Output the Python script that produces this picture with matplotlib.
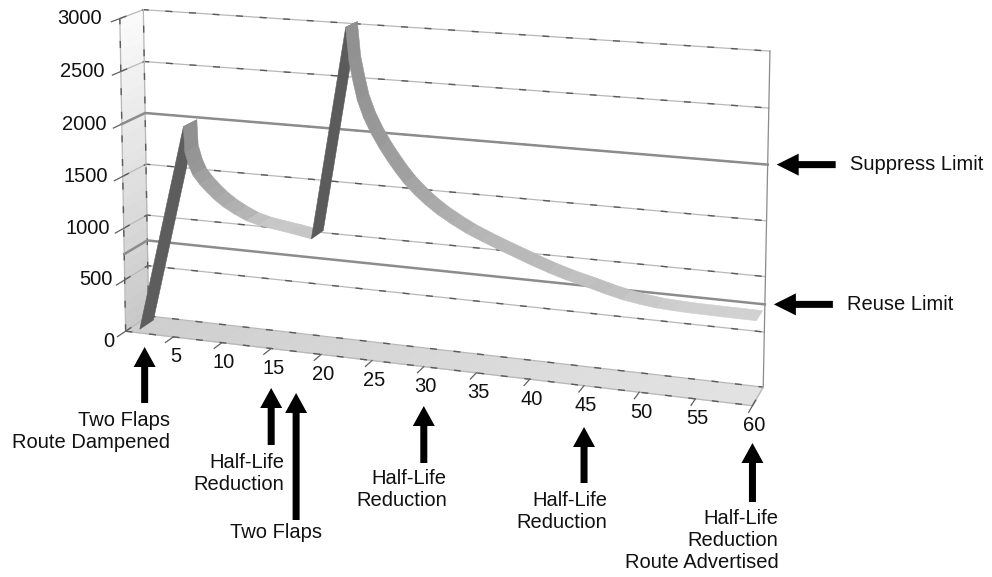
import numpy as np
import matplotlib
matplotlib.use("Agg")
import matplotlib.pyplot as plt
from matplotlib.patches import FancyArrow
from matplotlib.transforms import Affine2D
from mpl_toolkits.mplot3d.art3d import Poly3DCollection

plt.rcParams["font.family"] = ["Liberation Sans", "DejaVu Sans"]

# Route flap penalty over time (minutes)
minutes = [1.0, 5.9, 6.0, 6.4, 6.8, 7.5, 8.2, 9.0, 9.9, 11.0, 12.2, 13.5, 15.0,
           16.5, 18.7,
           22.2, 22.5, 22.9, 23.3, 23.9, 24.6, 25.4, 26.2, 27.0, 27.8, 28.8, 29.8,
           31.0, 32.3, 33.7, 35.2, 36.7, 38.3, 39.8, 41.4, 43.0, 45.1, 46.6, 48.2,
           49.7, 51.2, 52.7, 54.1, 55.6, 57.2, 58.6, 60.0]
penalty = [0, 2000, 1760, 1630, 1545, 1462, 1397, 1330, 1270, 1212, 1160, 1128, 1106,
           1085, 1050,
           3040, 2730, 2540, 2375, 2220, 2085, 1955, 1843, 1740, 1648, 1555, 1473,
           1390, 1316, 1245, 1183, 1125, 1067, 1012, 958, 911, 860, 820, 783,
           760, 742, 734, 729, 727, 725, 724, 723]

suppress_limit = 2000
reuse_limit = 750
value_ticks = [0, 500, 1000, 1500, 2000, 2500, 3000]
minute_ticks = [5, 10, 15, 20, 25, 30, 35, 40, 45, 50, 55, 60]

event_minutes = [2, 15, 17.5, 30, 45, 60]
event_labels = ["Two Flaps\nRoute Dampened", "Half-Life\nReduction", "Two Flaps",
                "Half-Life\nReduction", "Half-Life\nReduction",
                "Half-Life\nReduction\nRoute Advertised"]
limit_labels = ["Suppress Limit", "Reuse Limit"]

# ---- figure and camera ----------------------------------------------------
W, H = 992, 577
FS = 14.5
INK = "#111111"
T_MAX, P_MAX = 60, 3000
DEPTH_RATIO = 0.0808     # floor depth relative to the time axis
HEIGHT_RATIO = 0.5021    # 0..3000 height relative to the time axis
EYE_LEVEL = 4246.7       # the camera looks level from above the top of the chart
half = max(EYE_LEVEL, P_MAX - EYE_LEVEL) + 1.0

fig = plt.figure(figsize=(W / 100, H / 100), dpi=100)
side, left_px, bottom_px = 1139.1, -152.3, 96.2
ax = fig.add_axes([left_px / W, bottom_px / H, side / W, side / H], projection="3d")
ax.set_proj_type("persp", focal_length=0.3624)
ax.view_init(elev=7.476, azim=-70.735)
ax.set_box_aspect((1.0, DEPTH_RATIO, HEIGHT_RATIO * 2 * half / P_MAX))
ax.set_axis_off()
ax.computed_zorder = False
ax.patch.set_visible(False)


def panel(verts, color, z):
    pc = Poly3DCollection([verts], facecolors=[color], edgecolors=[color],
                          linewidths=0.3, zorder=z)
    ax.add_collection3d(pc)


def ruled(xs, ys, zs, z=2):
    ax.plot(xs, ys, zs, color="#b8b8b8", lw=0.9, zorder=z)
    ax.plot(xs, ys, zs, color="#5a5a5a", lw=1.0, dashes=(5, 12), zorder=z)


# back wall, shaded side wall and floor
panel([(0, 1, 0), (T_MAX, 1, 0), (T_MAX, 1, P_MAX), (0, 1, P_MAX)], "white", 0)
bands = np.linspace(0, P_MAX, 31)
for lo, hi in zip(bands[:-1], bands[1:]):
    g = 0.78 + 0.2 * hi / P_MAX
    panel([(0, 0, lo), (0, 1, lo), (0, 1, hi), (0, 0, hi)], (g, g, g), 0)
strips = np.linspace(0, T_MAX, 31)
for a, b in zip(strips[:-1], strips[1:]):
    g = 0.81 + 0.08 * a / T_MAX
    panel([(a, 0, 0), (b, 0, 0), (b, 1, 0), (a, 1, 0)], (g, g, g), 1)

# gridlines and frame edges
for v in value_ticks[1:]:
    ruled([0, 0, T_MAX], [0, 1, 1], [v, v, v])
ruled([0, 0], [0, 0], [0, P_MAX])
ruled([0, 0], [1, 1], [0, P_MAX])
ax.plot([T_MAX, T_MAX], [1, 1], [0, P_MAX], color="#8a8a8a", lw=0.9, zorder=2)
ruled([0, T_MAX], [0, 0], [0, 0])
ruled([0, T_MAX], [1, 1], [0, 0])
ruled([T_MAX, T_MAX], [0, 1], [0, 0])
ruled([0, 0], [0, 1], [0, 0])
for v in value_ticks:
    ax.plot([0, 0], [0, -0.35], [v, v], color="#606060", lw=0.9, zorder=2)
for m in minute_ticks:
    ax.plot([m, m], [0, -0.35], [0, 0], color="#606060", lw=0.9, zorder=2)

# suppress and reuse limits
for v in (suppress_limit, reuse_limit):
    ax.plot([0, 0, T_MAX], [0, 1, 1], [v, v, v], color="#8c8c8c", lw=1.8, zorder=3)

# penalty ribbon, shaded by slope
t = np.asarray(minutes, float)
p = np.asarray(penalty, float)
y0, y1 = 0.2, 0.8
quads = [[(t[i], y0, p[i]), (t[i + 1], y0, p[i + 1]),
          (t[i + 1], y1, p[i + 1]), (t[i], y1, p[i])] for i in range(len(t) - 1)]
ang = np.degrees(np.arctan2(np.diff(p) / P_MAX * HEIGHT_RATIO, np.diff(t) / T_MAX))
lev = np.interp(ang, [-90, -60, -30, 0, 30, 90], [0.56, 0.60, 0.68, 0.82, 0.45, 0.34])
cols = [(g, g, g) for g in lev]
ax.add_collection3d(Poly3DCollection(quads, facecolors=cols, edgecolors=cols,
                                     linewidths=0.4, zorder=5))

ax.set_xlim(0, T_MAX)
ax.set_ylim(0, 1)
ax.set_zlim(EYE_LEVEL - half, EYE_LEVEL + half)

fig.canvas.draw()


def screen(x, y, z):
    r = ax.M @ np.array([x, y, z, 1.0])
    dx, dy = ax.transData.transform((r[0] / r[3], r[1] / r[3]))
    return dx, H - dy


# labels and annotations, placed in pixels from the top-left corner
px = Affine2D().scale(0.01, -0.01).translate(0, H / 100) + fig.dpi_scale_trans

for v in value_ticks:
    x, y = screen(0, 0, v)
    fig.text(x - 11 - 0.0023 * v, y + (10 if v == 0 else 0), f"{v}", ha="right",
             va="center", fontsize=FS, color=INK, transform=px)
for m in minute_ticks:
    x, y = screen(m, 0, 0)
    fig.text(x + 2, y + 20, f"{m}", ha="center", va="center", fontsize=FS,
             color=INK, transform=px)

arrow_tip = [347, 388, 393, 406, 427, 443]
arrow_tail = [403, 445, 520, 463, 483, 502]
text_y = [432, 473, 533, 490, 511, 541]
text_dx = [25, 13, -20, 23, 23, 26]
text_ha = ["right", "right", "center", "right", "right", "right"]
for m, lab, tip, tail, ty, tdx, ha in zip(event_minutes, event_labels, arrow_tip,
                                          arrow_tail, text_y, text_dx, text_ha):
    x, _ = screen(m, 0, 0)
    fig.add_artist(FancyArrow(x, tail, 0, tip - tail, width=7, head_width=22,
                              head_length=20, length_includes_head=True,
                              color="black", lw=0, transform=px))
    fig.text(x + tdx, ty, lab, ha=ha, va="center", multialignment=ha,
             fontsize=FS, linespacing=1.2, color=INK, transform=px)

for v, lab in zip((suppress_limit, reuse_limit), limit_labels):
    x, y = screen(T_MAX, 1, v)
    fig.add_artist(FancyArrow(x + 68, y, -59, 0, width=7, head_width=22,
                              head_length=22, length_includes_head=True,
                              color="black", lw=0, transform=px))
    fig.text(x + 82, y, lab, ha="left", va="center", fontsize=FS,
             color=INK, transform=px)

fig.savefig("out.png", dpi=100)
